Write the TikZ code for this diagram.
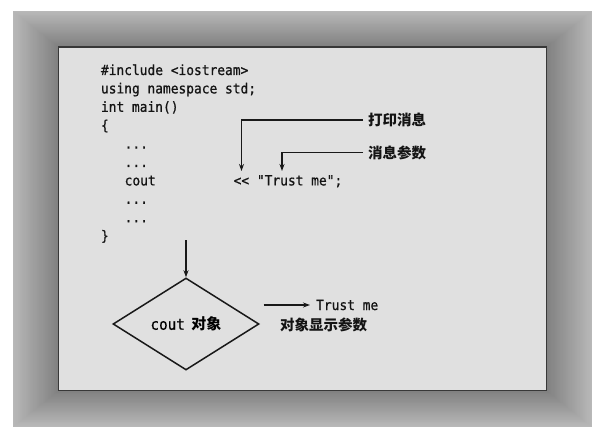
\documentclass[tikz,border=0pt]{standalone}
\usepackage{fontspec}
\setmonofont{DejaVu Sans Mono}[FakeStretch=0.92,FakeBold=0.8]
\newfontfamily\cjk{Noto Sans CJK SC}
\usetikzlibrary{shapes.geometric,arrows.meta}

\tikzset{
  code/.style={anchor=base west, inner sep=0pt, font=\ttfamily\fontsize{14}{16}\selectfont, text=black!92},
  cjklabel/.style={anchor=west, inner xsep=5pt, inner ysep=0pt, font=\cjk\bfseries\fontsize{14.5}{16}\selectfont, text=black!92},
  pointer/.style={draw=black!90, line width=1.1pt, -{Stealth[length=7pt,width=5pt]}},
  objbox/.style={diamond, draw=black!90, line width=1.5pt, aspect=1.587,
    minimum width=146pt, minimum height=92pt, inner sep=0pt},
}

\begin{document}
\begin{tikzpicture}[x=1pt,y=-1pt]
  \useasboundingbox (0,0) rectangle (600,433);

  % shaded mat around the card: light at the rim, darker towards the card
  \foreach \i in {0,...,40}{
    \pgfmathsetmacro\t{\i/40}
    \pgfmathsetmacro\shade{28+22*\t}
    \fill[black!\shade] (13+45.5*\t, 11+36*\t) rectangle (592-45.3*\t, 427-36.3*\t);
  }

  % the card
  \draw[fill=black!12, draw=black!78, line width=1.5pt] (58.5,47) rectangle (546.7,390.7);

  % program listing
  \node[code] (l1) at (100.8,75)   {\#include <iostream>};
  \node[code] (l2) at (100.8,93.4) {using namespace std;};
  \node[code] (l3) at (100.8,111.8){int main()};
  \node[code] (l4) at (100.8,130.2){\{};
  \node[code] (l5) at (124.5,148.6){...};
  \node[code] (l6) at (124.5,167)  {...};
  \node[code] (l7) at (124.5,185.4){cout};
  \node[code] (l8) at (124.5,203.8){...};
  \node[code] (l9) at (124.5,222.2){...};
  \node[code] (l10) at (100.8,240.6){\}};
  \node[code] (msg) at (233.5,185.4){<< "Trust me";};

  % callouts for the output statement
  \node[cjklabel] (print) at (363,120)   {打印消息};
  \node[cjklabel] (arg)   at (363,152.7) {消息参数};
  \coordinate (tipA) at (241.5,171);
  \coordinate (tipB) at (282,171);
  \draw[pointer] (print.west) -| (tipA);
  \draw[pointer] (arg.west) -| (tipB);

  % cout object
  \node[objbox] (obj) at (186,324)
    {\ttfamily\fontsize{15.5}{17}\selectfont cout\hspace{-2pt} \cjk\bfseries\fontsize{15}{17}\selectfont 对象};
  \coordinate (down) at (186,240);
  \draw[pointer] (down) -- (obj.north);

  % what the object shows
  \node[code, anchor=west, inner xsep=6pt] (shown) at (310,305) {Trust me};
  \coordinate (outA) at (263.5,305);
  \draw[pointer] (outA) -- (shown.west);
  \node[cjklabel, anchor=center, inner xsep=0pt] (shows) at (323.5,325) {对象显示参数};
\end{tikzpicture}
\end{document}
